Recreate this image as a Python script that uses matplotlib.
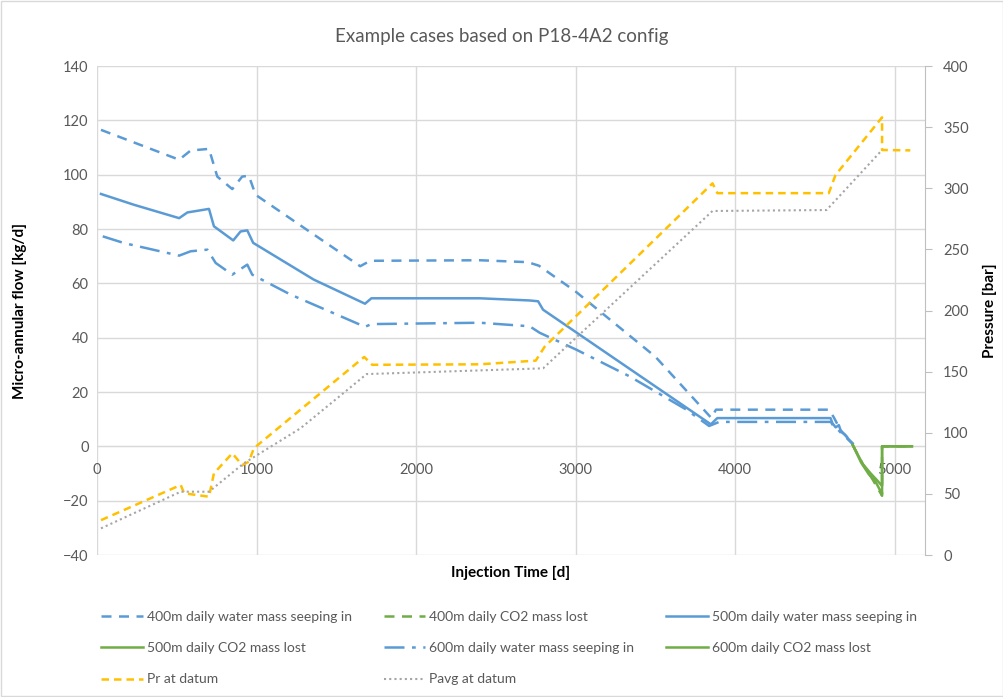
import matplotlib
matplotlib.use('Agg')
import matplotlib.pyplot as plt
from matplotlib.patches import Rectangle

plt.rcParams['font.family'] = ['Lato', 'DejaVu Sans']

# 400m daily water mass seeping in (kg/d)
t_400_water = [25, 515, 587, 702, 754, 848, 910, 952, 994, 1483, 1650, 1712, 2400, 2700, 2770,
               3000, 3500, 3850, 3880, 4590, 4620, 4660, 4700, 4737]
v_400_water = [116.5, 105.5, 108.9, 109.5, 99.3, 94.7, 99.3, 99.6, 92.6, 73.0, 66.3, 68.3, 68.5, 67.8, 66.5,
               57.0, 33.0, 10.5, 13.5, 13.5, 10.5, 6.0, 3.5, 0.8]

# 500m daily water mass seeping in
t_500_water = [25, 233, 515, 567, 702, 733, 854, 900, 942, 979, 1358, 1680, 1720, 2400, 2712, 2765,
               2796, 3848, 3888, 4598, 4610, 4630, 4650, 4665, 4690, 4712, 4737]
v_500_water = [92.9, 88.9, 84.0, 86.1, 87.4, 81.0, 75.8, 79.1, 79.5, 74.9, 61.4, 52.5, 54.5, 54.5, 53.7, 53.4,
               50.3, 8.1, 10.4, 10.4, 8.5, 7.0, 7.8, 5.3, 4.2, 2.6, 1.1]

# 600m daily water mass seeping in
t_600_water = [36, 171, 306, 515, 587, 692, 744, 848, 942, 973, 1212, 1680, 1720, 2400, 2712, 2775,
               3004, 3337, 3692, 3837, 3900, 4600, 4615, 4640, 4670, 4700, 4737]
v_600_water = [77.3, 74.8, 73.0, 70.2, 71.8, 72.4, 67.5, 63.2, 66.9, 63.2, 55.9, 44.0, 45.0, 45.5, 44.2, 41.8,
               35.6, 25.8, 13.6, 7.5, 9.0, 9.0, 7.5, 6.5, 4.5, 3.0, 0.8]

# daily CO2 mass lost
t_400_co2 = [4737, 4800, 4850, 4921, 4921, 5108]
v_400_co2 = [0.5, -6.5, -11.0, -18.2, 0.0, 0.0]
t_500_co2 = [4737, 4790, 4838, 4880, 4921, 4921, 5108]
v_500_co2 = [0.5, -6.0, -10.3, -13.0, -17.6, 0.0, 0.0]
t_600_co2 = [4737, 4800, 4850, 4890, 4921, 4921, 5108]
v_600_co2 = [0.5, -6.5, -10.0, -12.5, -14.6, 0.0, 0.0]

# pressures (bar)
t_pr = [25, 525, 546, 702, 733, 848, 910, 952, 983, 1675, 1725, 2400, 2750, 2806,
        3858, 3889, 4587, 4629, 4921, 4921, 5098]
p_pr = [28.5, 57.3, 50.5, 47.7, 66.8, 83.2, 73.6, 76.3, 87.3, 162.0, 155.6, 156.0, 159.0, 170.4,
        304.0, 296.0, 296.0, 310.8, 358.0, 331.3, 331.0]
t_pavg = [25, 525, 702, 920, 1275, 1690, 2796, 3858, 4573, 4921]
p_pavg = [21.8, 51.8, 51.8, 75.0, 103.6, 148.0, 152.7, 281.4, 282.2, 331.3]

blue = '#5B9BD5'
green = '#70AD47'
yellow = '#FFC000'
grey = '#A5A5A5'
txt = '#595959'

fig = plt.figure(figsize=(10.04, 6.97), dpi=100)
ax = fig.add_axes([0.0966, 0.2037, 0.8247, 0.7016])
ax2 = ax.twinx()

lw = 1.8
kw = dict(lw=lw, zorder=3)
l1, = ax.plot(t_400_water, v_400_water, color=blue, ls=(0, (4, 3)), label='400m daily water mass seeping in', **kw)
l3, = ax.plot(t_500_water, v_500_water, color=blue, label='500m daily water mass seeping in', **kw)
l5, = ax.plot(t_600_water, v_600_water, color=blue, ls=(0, (8, 3, 1.5, 3)), label='600m daily water mass seeping in', **kw)
l2, = ax.plot(t_400_co2, v_400_co2, color=green, ls=(0, (4, 3)), label='400m daily CO2 mass lost', **kw)
l4, = ax.plot(t_500_co2, v_500_co2, color=green, label='500m daily CO2 mass lost', **kw)
l6, = ax.plot(t_600_co2, v_600_co2, color=green, label='600m daily CO2 mass lost', **kw)
l7, = ax2.plot(t_pr, p_pr, color=yellow, lw=lw, ls=(0, (3, 2)), label='Pr at datum')
l8, = ax2.plot(t_pavg, p_pavg, color=grey, lw=1.5, ls=(0, (1, 1.5)), label='Pavg at datum')

ax.set_xlim(0, 5190)
ax.set_ylim(-40, 140)
ax.set_yticks(range(-40, 141, 20))
ax.set_xticks(range(0, 5001, 1000))
ax2.set_ylim(0, 400)
ax2.set_yticks(range(0, 401, 50))

ax.grid(True, color='#D9D9D9', lw=1)
ax.set_axisbelow(True)
for s in ['top', 'left']:
    ax.spines[s].set_visible(False)
    ax2.spines[s].set_visible(False)
ax.spines['right'].set_visible(False)
ax2.spines['bottom'].set_visible(False)
ax.spines['bottom'].set_position(('data', 0))
ax.spines['bottom'].set_color('#D9D9D9')
ax.spines['bottom'].set_zorder(1)
ax2.spines['right'].set_color('#BFBFBF')

ax.tick_params(axis='both', length=0, labelsize=10.5, labelcolor=txt, pad=6)
ax.tick_params(axis='x', pad=12)
ax2.tick_params(axis='y', length=5, color='#BFBFBF', labelsize=10.5, labelcolor=txt, pad=8)

ax.set_ylabel('Micro-annular flow [kg/d]', fontsize=11, fontweight='bold', color='black', labelpad=26)
ax2.set_ylabel('Pressure [bar]', fontsize=11, fontweight='bold', color='black', labelpad=10)
ax.text(0.5, -0.037, 'Injection Time [d]', transform=ax.transAxes, ha='center', va='center',
        fontsize=11, fontweight='bold')
fig.text(0.5, 0.947, 'Example cases based on P18-4A2 config', ha='center', va='center',
         fontsize=13.5, color=txt)

# legend, reordered so columns read like the original rows
order = [l1, l4, l7, l2, l5, l8, l3, l6]
fig.legend(order, [h.get_label() for h in order], ncol=3, loc='upper left',
           bbox_to_anchor=(0.088, 0.142), frameon=False, fontsize=10,
           handlelength=3.0, handletextpad=0.3, columnspacing=2.3, labelspacing=1.4,
           labelcolor=txt)

fig.patches.append(Rectangle((0.001, 0.001), 0.998, 0.998, transform=fig.transFigure,
                             fill=False, edgecolor='#D9D9D9', lw=1))

fig.savefig('out.png', dpi=100)
